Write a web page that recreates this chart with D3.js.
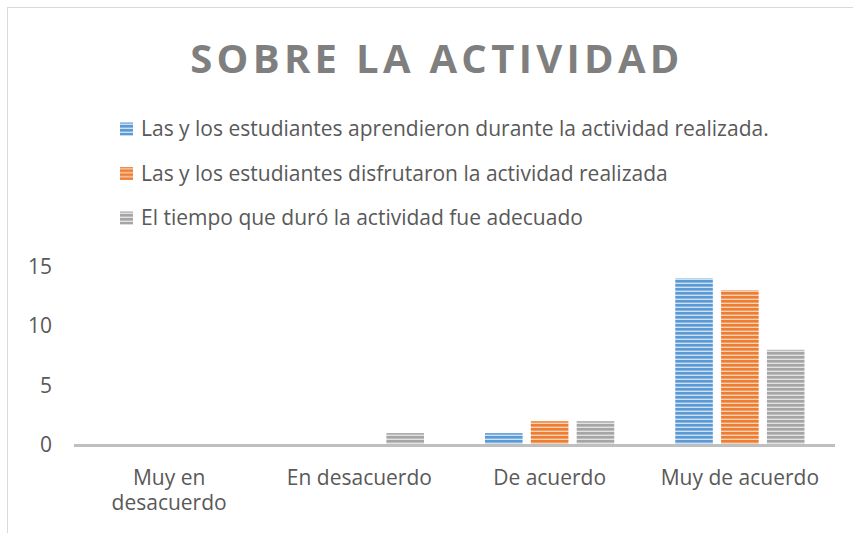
<!DOCTYPE html>
<html>
<head>
<meta charset="utf-8">
<script src="https://cdn.jsdelivr.net/npm/d3@7"></script>
<style>
  body { margin: 0; background: #fff; }
  text { font-family: "Open Sans", sans-serif; fill: #595959; }
</style>
</head>
<body>
<svg id="chart" width="853" height="533"></svg>
<script>
// datos
var categorias = ["Muy en desacuerdo", "En desacuerdo", "De acuerdo", "Muy de acuerdo"];
var series = [
    "Las y los estudiantes aprendieron durante la actividad realizada.",
    "Las y los estudiantes disfrutaron la actividad realizada",
    "El tiempo que duró la actividad fue adecuado"
];
var aprendieron = [0, 0, 1, 14];
var disfrutaron = [0, 0, 2, 13];
var tiempo = [0, 1, 2, 8];
var yTicks = [0, 5, 10, 15];
var colores = ["#5b9bd5", "#ed7d31", "#a5a5a5"];
var claros = ["#cfe0f2", "#f8d2b8", "#e2e2e2"];

var valores = [aprendieron, disfrutaron, tiempo];

var svg = d3.select("#chart");

// marco
svg.append("rect").attr("x", 7.5).attr("y", 7.5).attr("width", 860).attr("height", 540)
    .attr("fill", "none").attr("stroke", "#d9d9d9");

// patrones de rayas horizontales
var defs = svg.append("defs");
colores.forEach(function (c, i) {
    var p = defs.append("pattern").attr("id", "raya" + i)
        .attr("patternUnits", "userSpaceOnUse").attr("width", 8).attr("height", 4);
    p.append("rect").attr("width", 8).attr("height", 4).attr("fill", claros[i]);
    p.append("rect").attr("width", 8).attr("height", 2.6).attr("fill", c);
});

// titulo
svg.append("text").attr("x", 437).attr("y", 73).attr("text-anchor", "middle")
    .style("font-size", "40px").style("font-weight", "bold").style("letter-spacing", "4.3px")
    .style("fill", "#7f7f7f")
    .text("SOBRE LA ACTIVIDAD");

// leyenda
var leyenda = svg.selectAll("g.leyenda").data(series).enter().append("g")
    .attr("class", "leyenda")
    .attr("transform", function (d, i) { return "translate(120," + (129 + i * 44.5) + ")"; });
leyenda.append("rect").attr("x", 0).attr("y", -6.5).attr("width", 13).attr("height", 13)
    .attr("fill", function (d, i) { return "url(#raya" + i + ")"; });
leyenda.append("text").attr("x", 21).attr("dy", "0.35em").style("font-size", "21px")
    .text(function (d) { return d; });

// escalas
var x0 = d3.scaleBand().domain(categorias).range([74, 835]);
var x1 = d3.scaleBand().domain([0, 1, 2]).range([30.5, x0.bandwidth() - 30.5]).paddingInner(0.18);
var y = d3.scaleLinear().domain([0, 15]).range([445, 266.5]);

// eje y (solo etiquetas)
svg.selectAll("text.ytick").data(yTicks).enter().append("text")
    .attr("class", "ytick").attr("x", 52).attr("y", function (d) { return y(d); })
    .attr("dy", "0.35em").attr("text-anchor", "end").style("font-size", "21px")
    .text(function (d) { return d; });

// barras
var grupos = svg.selectAll("g.cat").data(categorias).enter().append("g")
    .attr("class", "cat")
    .attr("transform", function (d) { return "translate(" + x0(d) + ",0)"; });
grupos.selectAll("rect").data(function (d, ci) {
    return valores.map(function (s, si) { return { s: si, v: s[ci] }; });
}).enter().append("rect")
    .attr("x", function (d) { return x1(d.s); })
    .attr("width", x1.bandwidth())
    .attr("y", function (d) { return y(d.v); })
    .attr("height", function (d) { return y(0) - y(d.v); })
    .attr("fill", function (d) { return "url(#raya" + d.s + ")"; });

// linea base
svg.append("line").attr("x1", 74).attr("x2", 835).attr("y1", 445.5).attr("y2", 445.5)
    .attr("stroke", "#bfbfbf").attr("stroke-width", 3);

// etiquetas categorias
var etiquetas = { "Muy en desacuerdo": ["Muy en", "desacuerdo"] };
categorias.forEach(function (c) {
    var lineas = etiquetas[c] || [c];
    var t = svg.append("text").attr("text-anchor", "middle").style("font-size", "21px")
        .attr("x", x0(c) + x0.bandwidth() / 2).attr("y", 485);
    lineas.forEach(function (l, i) {
        t.append("tspan").attr("x", x0(c) + x0.bandwidth() / 2).attr("dy", i ? 25 : 0).text(l);
    });
});
</script>
</body>
</html>
